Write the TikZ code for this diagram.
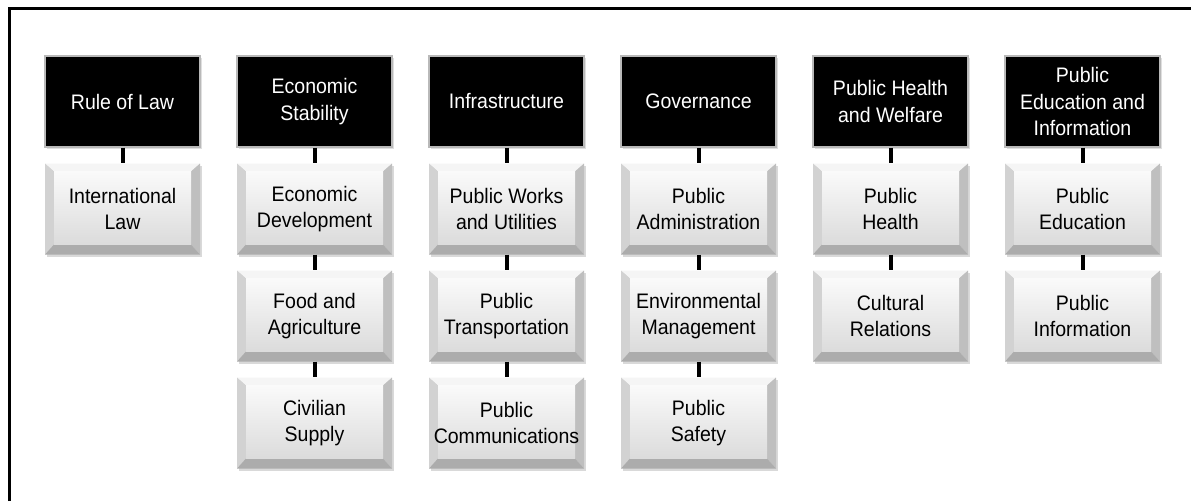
\documentclass[tikz,border=0pt]{standalone}
\usepackage{fontspec}
\setmainfont[FakeStretch=0.93]{Liberation Sans}
\usepackage{tikz}
\usetikzlibrary{shadows}

\begin{document}
\begin{tikzpicture}[x=1pt,y=-1pt]
    \tikzstyle{head} = [fill=black, draw=gray!55, line width=1.2pt, text=white,
        minimum width=155, minimum height=91, inner sep=0pt, align=center,
        font=\fontsize{21}{26.5}\selectfont,
        drop shadow={opacity=0.25, shadow xshift=1.5pt, shadow yshift=-1.5pt}]
    \tikzstyle{unit} = [minimum width=155, minimum height=91, inner sep=0pt, align=center,
        font=\fontsize{21}{26.5}\selectfont,
        drop shadow={opacity=0.3, shadow xshift=1.5pt, shadow yshift=-2pt},
        path picture={
            \path (path picture bounding box.north west) coordinate (pA)
                  (path picture bounding box.north east) coordinate (pB)
                  (path picture bounding box.south east) coordinate (pC)
                  (path picture bounding box.south west) coordinate (pD)
                  ([shift={(9pt,-8pt)}]pA) coordinate (qA)
                  ([shift={(-9pt,-8pt)}]pB) coordinate (qB)
                  ([shift={(-9pt,10pt)}]pC) coordinate (qC)
                  ([shift={(9pt,10pt)}]pD) coordinate (qD);
            % bevel edges
            \fill[gray!8]  (pA) -- (pB) -- (qB) -- (qA) -- cycle;
            \fill[gray!35] (pA) -- (qA) -- (qD) -- (pD) -- cycle;
            \fill[gray!50] (pB) -- (pC) -- (qC) -- (qB) -- cycle;
            \fill[gray!65] (pD) -- (qD) -- (qC) -- (pC) -- cycle;
            % face
            \fill[top color=gray!4, bottom color=gray!28] (qA) rectangle (qC);
        }]
    \tikzstyle{link} = [line width=4pt]

    \useasboundingbox (0,0) rectangle (1191,501);

    % Frame (top and left only)
    \draw[line width=3.5pt] (9.5,501) -- (9.5,8.5) -- (1191,8.5);

    % Header boxes
    \foreach \t [count=\i] in {{Rule of Law}, {Economic\\Stability}, {Infrastructure},
            {Governance}, {Public Health\\and Welfare}, {Public\\Education and\\Information}} {
        \node[head] (h\i) at (122.5+192*\i-192, 101.5) {\t};
    }

    % Functional areas
    \node[unit] (a1) at (122.5,209) {International\\Law};

    \node[unit] (b1) at (314.5,209) {Economic\\Development};
    \node[unit] (b2) at (314.5,316) {Food and\\Agriculture};
    \node[unit] (b3) at (314.5,423) {Civilian\\Supply};

    \node[unit] (c1) at (506.5,209) {Public Works\\and Utilities};
    \node[unit] (c2) at (506.5,316) {Public\\Transportation};
    \node[unit] (c3) at (506.5,423) {Public\\Communications};

    \node[unit] (d1) at (698.5,209) {Public\\Administration};
    \node[unit] (d2) at (698.5,316) {Environmental\\Management};
    \node[unit] (d3) at (698.5,423) {Public\\Safety};

    \node[unit] (e1) at (890.5,209) {Public\\Health};
    \node[unit] (e2) at (890.5,316) {Cultural\\Relations};

    \node[unit] (f1) at (1082.5,209) {Public\\Education};
    \node[unit] (f2) at (1082.5,316) {Public\\Information};

    % Connectors
    \foreach \a/\b in {h1/a1, h2/b1, b1/b2, b2/b3, h3/c1, c1/c2, c2/c3,
            h4/d1, d1/d2, d2/d3, h5/e1, e1/e2, h6/f1, f1/f2} {
        \draw[link] (\a.south) -- (\b.north);
    }
\end{tikzpicture}
\end{document}
